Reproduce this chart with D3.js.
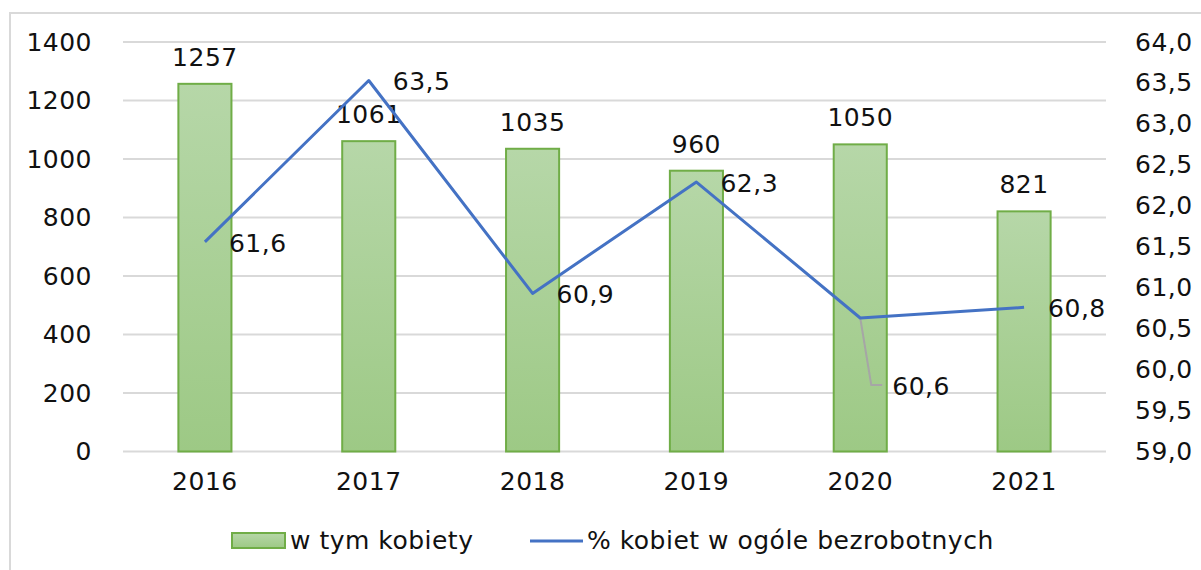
<!DOCTYPE html>
<html>
<head>
<meta charset="utf-8">
<script src="https://cdn.jsdelivr.net/npm/d3@7"></script>
<style>
    body { margin: 0; background: #ffffff; }
    svg text { font-family: "DejaVu Sans", sans-serif; fill: #111111; letter-spacing: 0.5px; }
</style>
</head>
<body>
<div id="chart"></div>
<script>
'use strict';

let years = ["2016", "2017", "2018", "2019", "2020", "2021"];
let women = [1257, 1061, 1035, 960, 1050, 821];
let womenShare = [61.56, 63.53, 60.93, 62.29, 60.63, 60.76];
let leftTicks = [0, 200, 400, 600, 800, 1000, 1200, 1400];
let rightTicks = [59, 59.5, 60, 60.5, 61, 61.5, 62, 62.5, 63, 63.5, 64];
let legendNames = ["w tym kobiety", "% kobiet w ogóle bezrobotnych"];

const width = 1201;
const height = 570;
const fontSize = 25;
const plot = { left: 123, right: 1106, top: 42, bottom: 451.5 };

function formatPl(value, digits) {
    return value.toFixed(digits).replace(".", ",");
}

let svg = d3.select("#chart")
    .append("svg")
    .attr("width", width)
    .attr("height", height);

// chart frame
svg.append("rect")
    .attr("x", 10).attr("y", 13)
    .attr("width", width + 20).attr("height", height + 20)
    .attr("fill", "none")
    .attr("stroke", "#d9d9d9")
    .attr("stroke-width", 2);

let defs = svg.append("defs");
let grad = defs.append("linearGradient")
    .attr("id", "barFill")
    .attr("x1", 0).attr("y1", 0).attr("x2", 0).attr("y2", 1);
grad.append("stop").attr("offset", "0%").attr("stop-color", "#b6d7a8");
grad.append("stop").attr("offset", "100%").attr("stop-color", "#9dc985");

let x = d3.scaleBand()
    .domain(years)
    .range([plot.left, plot.right])
    .paddingInner(0.676)
    .paddingOuter(0.338);

let yLeft = d3.scaleLinear()
    .domain([0, 1400])
    .range([plot.bottom, plot.top]);

let yRight = d3.scaleLinear()
    .domain([59, 64])
    .range([plot.bottom, plot.top]);

// gridlines
svg.append("g")
    .selectAll("line")
    .data(leftTicks)
    .enter()
    .append("line")
    .attr("x1", plot.left)
    .attr("x2", plot.right)
    .attr("y1", d => yLeft(d))
    .attr("y2", d => yLeft(d))
    .attr("stroke", "#d9d9d9")
    .attr("stroke-width", 2);

// left axis
let leftAxis = svg.append("g")
    .attr("transform", "translate(" + (plot.left - 31) + ",0)")
    .call(d3.axisLeft(yLeft).tickValues(leftTicks).tickSize(0).tickPadding(0)
        .tickFormat(d => String(d)));
leftAxis.select(".domain").remove();
leftAxis.selectAll("text")
    .attr("font-size", fontSize)
    .attr("font-family", "DejaVu Sans")
    .attr("fill", "#111111");

// right axis
let rightAxis = svg.append("g")
    .attr("transform", "translate(1135,0)")
    .call(d3.axisRight(yRight).tickValues(rightTicks).tickSize(0).tickPadding(0)
        .tickFormat(d => formatPl(d, 1)));
rightAxis.select(".domain").remove();
rightAxis.selectAll("text")
    .attr("font-size", fontSize)
    .attr("font-family", "DejaVu Sans")
    .attr("fill", "#111111");

// bottom axis
let bottomAxis = svg.append("g")
    .attr("transform", "translate(0," + (plot.bottom + 20) + ")")
    .call(d3.axisBottom(x).tickSize(0).tickPadding(0));
bottomAxis.select(".domain").remove();
bottomAxis.selectAll("text")
    .attr("font-size", fontSize)
    .attr("font-family", "DejaVu Sans")
    .attr("fill", "#111111")
    .attr("dy", "0.75em");

let barData = years.map((year, i) => ({ year: year, value: women[i] }));
let lineData = years.map((year, i) => ({ year: year, value: womenShare[i] }));

// bars
svg.append("g")
    .selectAll("rect")
    .data(barData)
    .enter()
    .append("rect")
    .attr("x", d => x(d.year))
    .attr("y", d => yLeft(d.value))
    .attr("width", x.bandwidth())
    .attr("height", d => plot.bottom - yLeft(d.value))
    .attr("fill", "url(#barFill)")
    .attr("stroke", "#70ad47")
    .attr("stroke-width", 2);

svg.append("g")
    .selectAll("text")
    .data(barData)
    .enter()
    .append("text")
    .attr("x", d => x(d.year) + x.bandwidth() / 2)
    .attr("y", d => yLeft(d.value) - 18)
    .attr("text-anchor", "middle")
    .attr("font-size", fontSize)
    .text(d => d.value);

// line
let cx = d => x(d.year) + x.bandwidth() / 2;
let line = d3.line()
    .x(cx)
    .y(d => yRight(d.value));

// leader line for the moved 2020 label
let moved = lineData[4];
svg.append("polyline")
    .attr("points", [
        [cx(moved), yRight(moved.value)],
        [cx(moved) + 11, yRight(moved.value) + 67],
        [cx(moved) + 22, yRight(moved.value) + 67]
    ].join(" "))
    .attr("fill", "none")
    .attr("stroke", "#a6a6a6")
    .attr("stroke-width", 2);

svg.append("path")
    .datum(lineData)
    .attr("d", line)
    .attr("fill", "none")
    .attr("stroke", "#4472c4")
    .attr("stroke-width", 3)
    .attr("stroke-linejoin", "round");

svg.append("g")
    .selectAll("text")
    .data(lineData)
    .enter()
    .append("text")
    .attr("x", (d, i) => cx(d) + (i === 4 ? 32 : 24))
    .attr("y", (d, i) => yRight(d.value) + (i === 4 ? 68 : 1))
    .attr("dy", "0.36em")
    .attr("font-size", fontSize)
    .text(d => formatPl(d.value, 1));

// legend
let legend = svg.append("g");
legend.append("rect")
    .attr("x", 232).attr("y", 533)
    .attr("width", 53).attr("height", 15)
    .attr("fill", "url(#barFill)")
    .attr("stroke", "#70ad47")
    .attr("stroke-width", 2);
legend.append("text")
    .attr("x", 290).attr("y", 549)
    .attr("font-size", fontSize)
    .text(legendNames[0]);
legend.append("line")
    .attr("x1", 530).attr("x2", 583)
    .attr("y1", 541).attr("y2", 541)
    .attr("stroke", "#4472c4")
    .attr("stroke-width", 3);
legend.append("text")
    .attr("x", 587).attr("y", 549)
    .attr("font-size", fontSize)
    .text(legendNames[1]);
</script>
</body>
</html>
